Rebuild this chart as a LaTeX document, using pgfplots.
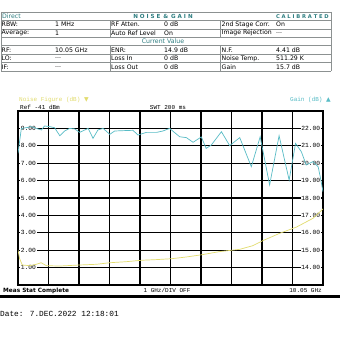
\documentclass[border=0pt]{standalone}
\usepackage{fontspec}
\setmainfont{DejaVu Sans}
\newfontfamily\mono{Liberation Mono}
\newfontfamily\sym{DejaVu Sans}
\usepackage{pgfplots}
\pgfplotsset{compat=1.18}
\definecolor{nfy}{RGB}{226,220,110}
\definecolor{gcy}{RGB}{88,188,198}
\definecolor{hdr}{RGB}{45,125,128}
\definecolor{tline}{RGB}{140,145,145}
\newcommand\dd{.\kern0pt.\kern0pt.}
\pgfplotstableread{
x g
0.05 20.57
0.16 22.00
0.32 22.04
0.49 22.10
0.65 22.00
0.82 21.91
0.92 22.14
1.09 22.10
1.25 22.04
1.42 21.58
1.58 21.85
1.74 22.00
1.91 21.97
2.07 21.77
2.24 21.91
2.35 22.00
2.51 21.43
2.67 21.91
2.84 22.00
3.06 21.66
3.22 21.85
3.49 21.87
3.82 21.89
3.98 21.62
4.26 21.77
4.59 21.77
4.80 21.85
5.02 22.00
5.35 21.52
5.57 21.47
5.79 21.20
6.06 21.51
6.22 20.85
6.39 21.05
6.72 21.81
6.99 21.01
7.32 21.47
7.70 19.80
7.99 21.52
8.30 18.75
8.61 21.58
8.94 19.03
9.15 21.14
9.34 20.66
9.50 19.90
9.72 20.09
9.89 19.80
9.97 19.13
10.05 18.36
}\gaintab
\pgfplotstableread{
x nf
0.05 2.01
0.10 1.53
0.19 1.15
0.43 1.11
0.65 1.19
0.81 1.28
0.98 1.11
1.42 1.09
2.07 1.15
2.62 1.19
3.06 1.28
3.60 1.34
4.09 1.42
4.59 1.46
5.08 1.51
5.57 1.61
6.08 1.74
6.66 1.92
7.32 2.05
7.75 2.26
8.08 2.55
8.63 2.97
9.18 3.33
9.72 3.83
10.05 4.37
}\nftab
\begin{document}
\begin{tikzpicture}[x=1pt,y=1pt]
\path[use as bounding box, fill=white] (0,0) rectangle (340,340);
% ---- top table ----
\begin{scope}[font=\fontsize{6.2}{6.5}\selectfont]
\foreach \yy in {328,319.6,311.1,302.7,294.3,285.9,277.4,269}
  \draw[tline, line width=0.6pt] (1,\yy) -- (331,\yy);
\draw[tline, line width=0.6pt] (1,328) -- (1,269);
\draw[tline, line width=0.6pt] (331,328) -- (331,269);
\foreach \a/\b in {319.6/302.7, 294.3/269}{
  \draw[tline, line width=0.6pt] (110,\a) -- (110,\b);
  \draw[tline, line width=0.6pt] (220,\a) -- (220,\b);
}
\node[anchor=west, text=hdr, inner sep=1pt] at (1,323.8) {Direct};
\node[text=hdr, inner sep=1pt, font=\fontsize{5.6}{6}\selectfont\bfseries] at (163,323.8) {N O I S E \,\&\, G A I N};
\node[anchor=east, text=hdr, inner sep=1pt, font=\fontsize{5.2}{6}\selectfont\bfseries] at (330,323.8) {C A L I B R A T E D};
\node[text=hdr, inner sep=1pt] at (163,298.5) {Current Value};
\foreach \yy/\a/\b/\c/\d/\e/\f in {
  315.4/RBW:/1 MHz/RF Atten./0 dB/2nd Stage Corr./On,
  306.9/Average:/1/Auto Ref Level/On/Image Rejection/\dd,
  290.1/RF:/10.05 GHz/ENR:/14.9 dB/N.F./4.41 dB,
  281.6/LO:/\dd/Loss In/0 dB/Noise Temp./511.29 K,
  273.2/IF:/\dd/Loss Out/0 dB/Gain/15.7 dB}{
  \node[anchor=west, inner sep=1pt] at (0.5,\yy) {\a};
  \node[anchor=west, inner sep=1pt] at (54,\yy) {\b};
  \node[anchor=west, inner sep=1pt] at (110,\yy) {\c};
  \node[anchor=west, inner sep=1pt] at (163,\yy) {\d};
  \node[anchor=west, inner sep=1pt] at (220.5,\yy) {\e};
  \node[anchor=west, inner sep=1pt] at (275,\yy) {\f};
}
\end{scope}
% ---- texts around plot ----
\node[anchor=west, text=nfy, inner sep=0pt, font=\mono\fontsize{6}{6}\selectfont] at (19,240) {Noise Figure (dB) {\sym\fontsize{6}{6}\selectfont ▼}};
\node[anchor=east, text=gcy, inner sep=0pt, font=\mono\fontsize{6}{6}\selectfont] at (331,240) {Gain (dB) {\sym\fontsize{6}{6}\selectfont ▲}};
\node[anchor=west, inner sep=0pt, font=\mono\fontsize{6}{6}\selectfont] at (20,232.5) {Ref -41 dBm};
\node[inner sep=0pt, font=\mono\fontsize{6}{6}\selectfont] at (168,232.5) {SWT 200 ms};
\node[anchor=west, inner sep=0pt, font=\fontsize{5.8}{6}\selectfont\bfseries] at (3,49.5) {Meas Stat Complete};
\node[inner sep=0pt, font=\mono\fontsize{6}{6}\selectfont] at (167,49.5) {1 GHz/DIV OFF};
\node[anchor=east, inner sep=0pt, font=\mono\fontsize{6}{6}\selectfont] at (322,49.5) {10.05 GHz};
\fill[black] (0,42) rectangle (340,45);
\node[anchor=west, inner sep=0pt, font=\mono\fontsize{7.8}{8}\selectfont] at (0,26) {Date: 7.DEC.2022  12:18:01};
% ---- plot: grid + left labels ----
\begin{axis}[at={(18pt,55pt)}, anchor=south west, scale only axis,
  width=305pt, height=174pt,
  xmin=0.05, xmax=10.05, ymin=0, ymax=10,
  xtick={1.05,2.05,3.05,4.05,5.05,6.05,7.05,8.05,9.05}, xticklabels={},
  ytick={1,2,3,4,5,6,7,8,9},
  yticklabels={1.00,2.00,3.00,4.00,5.00,6.00,7.00,8.00,9.00},
  grid=major, major grid style={black, line width=1.2pt},
  major tick length=0pt,
  axis line style={black, line width=1.2pt},
  yticklabel style={anchor=west, xshift=2pt, fill=white, inner sep=0.6pt,
    font=\mono\fontsize{6.3}{6.3}\selectfont}]
\end{axis}
% ---- right labels (gain scale) ----
\begin{axis}[at={(18pt,55pt)}, anchor=south west, scale only axis,
  width=305pt, height=174pt,
  xmin=0.05, xmax=10.05, ymin=13, ymax=23,
  xtick=\empty, ytick={14,15,16,17,18,19,20,21,22},
  yticklabels={14.00,15.00,16.00,17.00,18.00,19.00,20.00,21.00,22.00},
  yticklabel pos=right, major tick length=0pt,
  axis line style={draw=none},
  yticklabel style={anchor=east, xshift=-2pt, fill=white, inner sep=0.6pt,
    font=\mono\fontsize{6.3}{6.3}\selectfont}]
\end{axis}
% ---- gain trace ----
\begin{axis}[at={(18pt,55pt)}, anchor=south west, scale only axis,
  width=305pt, height=174pt, hide axis,
  xmin=0.05, xmax=10.05, ymin=13, ymax=23]
\addplot[gcy, line width=0.7pt] table[x=x,y=g] {\gaintab};
\end{axis}
% ---- NF trace ----
\begin{axis}[at={(18pt,55pt)}, anchor=south west, scale only axis,
  width=305pt, height=174pt, hide axis,
  xmin=0.05, xmax=10.05, ymin=0, ymax=10]
\addplot[nfy, line width=0.7pt] table[x=x,y=nf] {\nftab};
\end{axis}
\end{tikzpicture}
\end{document}
